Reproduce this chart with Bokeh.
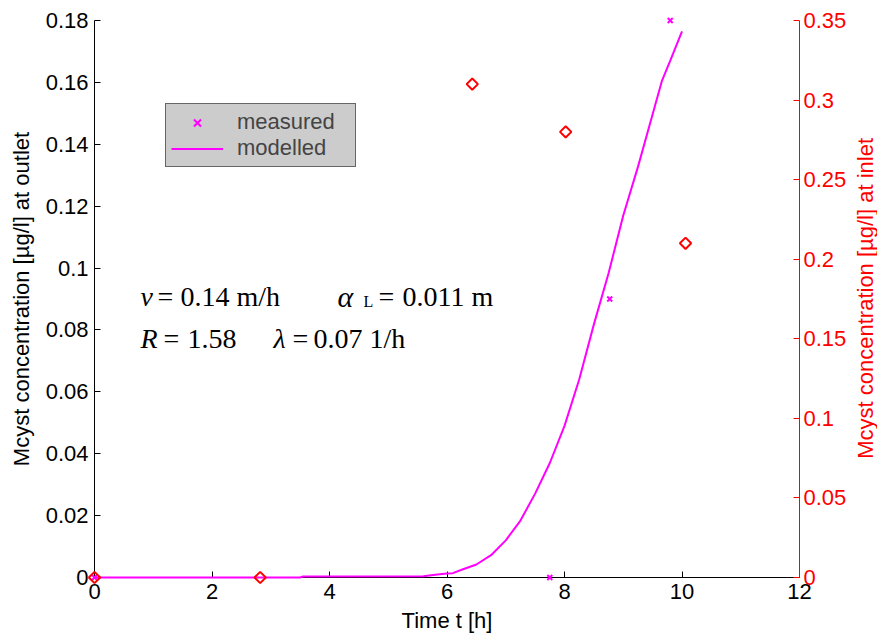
from bokeh.plotting import figure
from bokeh.models import Range1d, LinearAxis, FixedTicker, Legend, LegendItem, Label
from bokeh.core.properties import value
from bokeh.embed import file_html
from bokeh.resources import INLINE

# ---- data ----
model_t = [0, 3.5, 3.55, 5.6, 5.8, 6.0, 6.1, 6.25, 6.5, 6.75, 7.0, 7.25, 7.5, 7.75,
           8.0, 8.25, 8.5, 8.75, 9.0, 9.25, 9.5, 9.66, 9.8, 10.0]
model_c = [0, 0, 0.0003, 0.0004, 0.0009, 0.0013, 0.0014, 0.0025, 0.0042, 0.0072, 0.012,
           0.0184, 0.0271, 0.037, 0.049, 0.064, 0.0818, 0.0983, 0.117, 0.1327, 0.1497,
           0.1606, 0.167, 0.1765]
meas_t = [0, 7.75, 8.77, 9.8]
meas_c = [0, 0, 0.090, 0.180]
inlet_t = [0, 2.82, 6.43, 8.02, 10.06]
inlet_c = [0, 0, 0.310, 0.280, 0.210]

x_ticks = [0, 2, 4, 6, 8, 10, 12]
left_ticks = [0, 0.02, 0.04, 0.06, 0.08, 0.1, 0.12, 0.14, 0.16, 0.18]
left_labels = ["0", "0.02", "0.04", "0.06", "0.08", "0.1", "0.12", "0.14", "0.16", "0.18"]
right_ticks = [0, 0.05, 0.1, 0.15, 0.2, 0.25, 0.3, 0.35]
right_labels = ["0", "0.05", "0.1", "0.15", "0.2", "0.25", "0.3", "0.35"]

SANS = "Liberation Sans"
SERIF = "Liberation Serif"
MAG = "#ff00ff"
RED = "#ff0000"

p = figure(width=877, height=639, x_range=Range1d(0, 12), y_range=Range1d(0, 0.18),
           output_backend="svg", toolbar_location=None,
           min_border_left=94, min_border_top=20, min_border_right=78, min_border_bottom=62,
           x_axis_location=None, y_axis_location=None)
p.outline_line_color = None
p.xgrid.visible = False
p.ygrid.visible = False
p.extra_y_ranges = {"inlet": Range1d(0, 0.35)}

def style(ax, color):
    ax.axis_line_color = color
    ax.major_tick_line_color = color
    ax.major_label_text_color = color
    ax.axis_label_text_color = color
    ax.major_tick_out = 0
    ax.major_tick_in = 6
    ax.minor_tick_line_color = None
    ax.major_label_text_font = SANS
    ax.major_label_text_font_size = "22px"
    ax.axis_label_text_font = SANS
    ax.axis_label_text_font_size = "22px"
    ax.axis_label_text_font_style = "normal"

xa = LinearAxis(ticker=FixedTicker(ticks=x_ticks), axis_label="Time t [h]")
style(xa, "black")
xa.major_label_standoff = 6
xa.axis_label_standoff = 6
p.add_layout(xa, "below")

ya = LinearAxis(ticker=FixedTicker(ticks=left_ticks),
                axis_label="Mcyst concentration [\u00b5g/l] at outlet")
style(ya, "black")
ya.major_label_overrides = {t: s for t, s in zip(left_ticks, left_labels)}
ya.major_label_standoff = 6
ya.axis_label_standoff = 9
p.add_layout(ya, "left")

ra = LinearAxis(y_range_name="inlet", ticker=FixedTicker(ticks=right_ticks))
style(ra, RED)
ra.major_label_overrides = {t: s for t, s in zip(right_ticks, right_labels)}
ra.major_label_standoff = 4
p.add_layout(ra, "right")

# right axis title, reading bottom-to-top like the left one
p.text(x=[13.12], y=[0.0902], text=["Mcyst concentration [\u00b5g/l] at inlet"],
       angle=1.5708, text_align="center", text_baseline="middle",
       text_font=value(SANS), text_font_size="22px", text_color=RED, level="overlay")

line_r = p.line(model_t, model_c, line_color=MAG, line_width=2, level="overlay")
meas_r = p.scatter(meas_t, meas_c, marker="x", size=7, line_color=MAG, line_width=2,
                   level="overlay")
p.scatter(inlet_t, inlet_c, y_range_name="inlet", marker="square", angle=0.785398,
          size=8, line_color=RED, line_width=2, fill_color=None, level="overlay")

legend = Legend(items=[LegendItem(label="measured", renderers=[meas_r]),
                       LegendItem(label="modelled", renderers=[line_r])],
                location=(71, 410))
legend.label_text_font = SANS
legend.label_text_font_size = "22px"
legend.background_fill_color = "#cccccc"
legend.background_fill_alpha = 1.0
legend.border_line_color = "black"
legend.border_line_width = 1
legend.padding = 5
legend.spacing = 0
legend.margin = 0
legend.label_height = 25
legend.glyph_height = 25
legend.glyph_width = 52
legend.label_standoff = 14
legend.label_width = 113
p.add_layout(legend, "center")

def lab(x, y, text, italic=False, size="28px"):
    p.add_layout(Label(x=x, y=y, text=text, text_font=SERIF, text_font_size=size,
                       text_font_style="italic" if italic else "normal",
                       text_baseline="alphabetic", text_color="black"))

y1 = 0.0908
y2 = 0.0772
lab(0.783, y1, "v", True)
lab(1.072, y1, "=")
lab(1.464, y1, "0.14 m/h")
lab(4.136, y1, "\u03b1", True, "30px")
lab(4.579, 0.0892, "L", False, "16px")
lab(4.834, y1, "=")
lab(5.243, y1, "0.011 m")
lab(0.783, y2, "R", True)
lab(1.174, y2, "=")
lab(1.583, y2, "1.58")
lab(3.047, y2, "\u03bb", True)
lab(3.370, y2, "=")
lab(3.728, y2, "0.07 1/h")

open("out.html", "w").write(file_html(p, INLINE))
